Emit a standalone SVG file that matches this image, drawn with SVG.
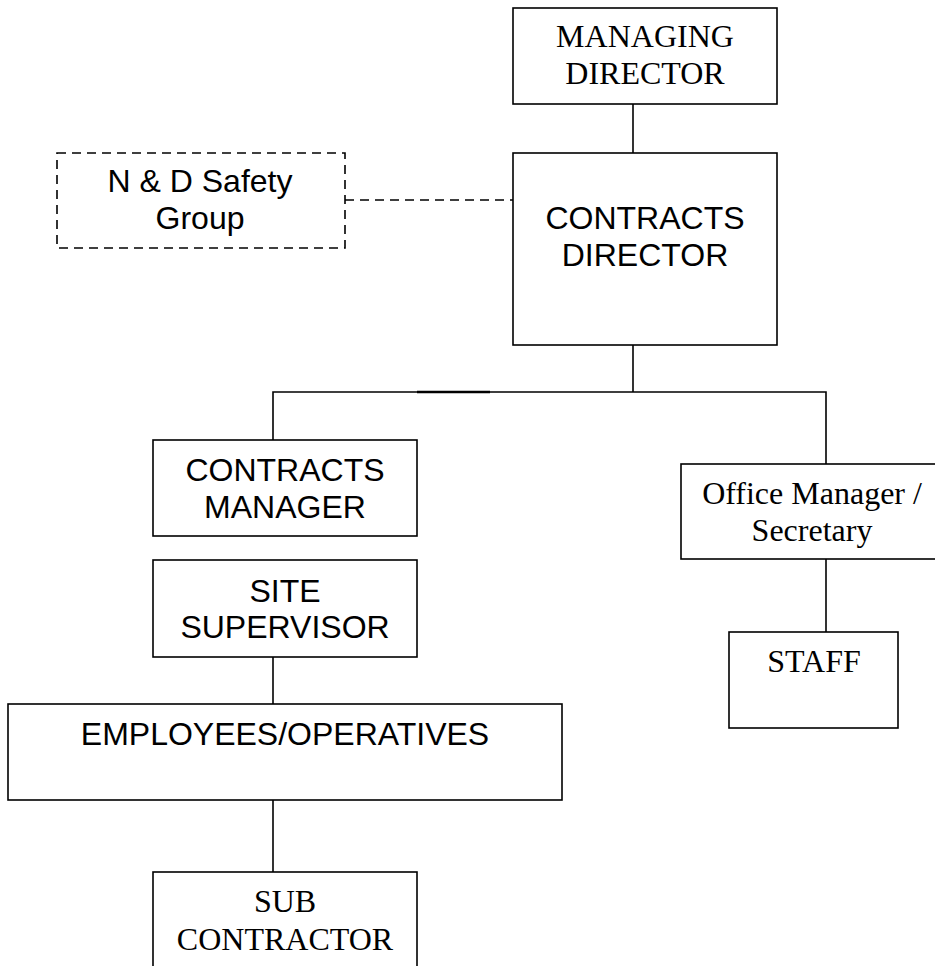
<svg xmlns="http://www.w3.org/2000/svg" width="935" height="966" viewBox="0 0 935 966">
<style>
.box{fill:#fff;stroke:#000;stroke-width:1.6}
.dbox{fill:#fff;stroke:#000;stroke-width:1.6;stroke-dasharray:9 6}
.ln{stroke:#000;stroke-width:1.6;fill:none}
.dl{stroke:#000;stroke-width:1.6;fill:none;stroke-dasharray:9 6}
.a{font-family:"Liberation Sans",Arial,sans-serif;font-size:32px;fill:#000;text-anchor:middle}
.t{font-family:"Liberation Serif","Times New Roman",serif;font-size:32px;fill:#000;text-anchor:middle}
</style>
<rect width="935" height="966" fill="#fff"/>
<g id="connectors">
<line class="ln" x1="633" y1="104" x2="633" y2="153"/>
<line class="ln" x1="633" y1="345" x2="633" y2="392"/>
<polyline class="ln" points="273,440 273,392 826,392 826,464"/>
<line x1="417" y1="392" x2="490" y2="392" stroke="#000" stroke-width="2.4"/>
<line class="ln" x1="826" y1="559" x2="826" y2="632"/>
<line class="ln" x1="273" y1="657" x2="273" y2="704"/>
<line class="ln" x1="273" y1="800" x2="273" y2="872"/>
<line class="dl" x1="345" y1="200" x2="513" y2="200"/>
</g>
<g id="managing-director">
<rect class="box" x="513" y="8" width="264" height="96"/>
<text class="t" x="645" y="47">MANAGING</text>
<text class="t" x="645" y="84">DIRECTOR</text>
</g>
<g id="safety-group">
<rect class="dbox" x="57" y="153" width="288" height="95"/>
<text class="a" x="200" y="192">N &amp; D Safety</text>
<text class="a" x="200" y="229">Group</text>
</g>
<g id="contracts-director">
<rect class="box" x="513" y="153" width="264" height="192"/>
<text class="a" x="645" y="229">CONTRACTS</text>
<text class="a" x="645" y="266">DIRECTOR</text>
</g>
<g id="contracts-manager">
<rect class="box" x="153" y="440" width="264" height="96"/>
<text class="a" x="285" y="481">CONTRACTS</text>
<text class="a" x="285" y="518">MANAGER</text>
</g>
<g id="site-supervisor">
<rect class="box" x="153" y="560" width="264" height="97"/>
<text class="a" x="285" y="602">SITE</text>
<text class="a" x="285" y="638">SUPERVISOR</text>
</g>
<g id="employees">
<rect class="box" x="8" y="704" width="554" height="96"/>
<text class="a" x="285" y="745">EMPLOYEES/OPERATIVES</text>
</g>
<g id="sub-contractor">
<rect class="box" x="153" y="872" width="264" height="120"/>
<text class="t" x="285" y="912">SUB</text>
<text class="t" x="285" y="950">CONTRACTOR</text>
</g>
<g id="office-manager">
<rect class="box" x="681" y="464" width="262" height="95"/>
<text class="t" x="812" y="504">Office Manager /</text>
<text class="t" x="812" y="541">Secretary</text>
</g>
<g id="staff">
<rect class="box" x="729" y="632" width="169" height="96"/>
<text class="t" x="814" y="672">STAFF</text>
</g>
</svg>
